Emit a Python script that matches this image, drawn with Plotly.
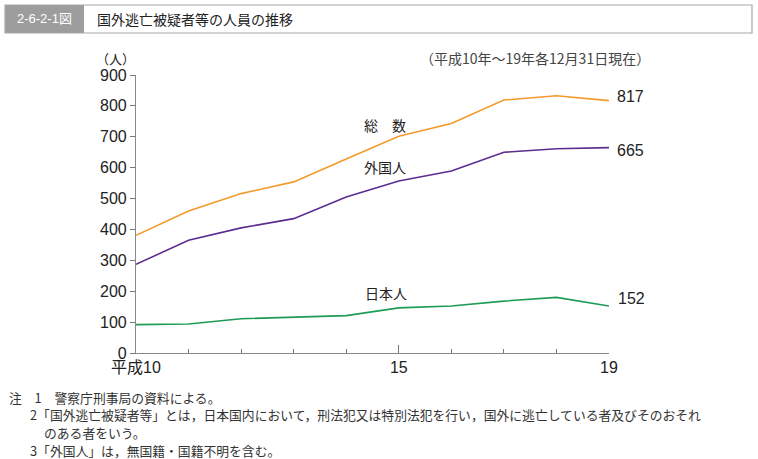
import plotly.graph_objects as go

years = [10, 11, 12, 13, 14, 15, 16, 17, 18, 19]
total = [381, 460, 516, 554, 628, 702, 743, 819, 833, 817]
foreign = [287, 365, 405, 435, 505, 557, 589, 650, 661, 665]
japanese = [92, 94, 111, 117, 121, 146, 152, 168, 180, 152]
series_names = ["総　数", "外国人", "日本人"]
colors = ["#F39A2B", "#5C2D91", "#1E9B57"]
x_tickvals = [10, 15, 19]
x_ticktext = ["平成10", "15", "19"]

W, H = 758, 459
L, R, T, B = 136, 609, 75, 353

def px(x):
    return (x - L) / (R - L)

def py(y):
    return (B - y) / (B - T)

NUM = "Liberation Sans, Arial, sans-serif"
JP = "Noto Sans CJK JP"

fig = go.Figure()
for vals, name, c in zip([total, foreign, japanese], series_names, colors):
    fig.add_trace(go.Scatter(x=years, y=vals, mode="lines", name=name,
                             line=dict(color=c, width=1.6), showlegend=False,
                             hoverinfo="x+y"))

fig.update_layout(
    width=W, height=H,
    margin=dict(l=L, r=W - R, t=T, b=H - B),
    paper_bgcolor="white", plot_bgcolor="white",
    xaxis=dict(range=[10, 19], tickvals=x_tickvals, ticktext=x_ticktext,
               ticks="inside", ticklen=8, tickcolor="#777", tickwidth=1,
               showline=True, linecolor="#888", linewidth=1.2,
               showgrid=False, zeroline=False,
               minor=dict(dtick=1, ticks="inside", ticklen=4, tickcolor="#777", showgrid=False),
               tickfont=dict(family=NUM + ", " + JP, size=16, color="#222")),
    yaxis=dict(range=[0, 900], dtick=100, ticks="outside", ticklen=5,
               tickcolor="#777", showline=True, linecolor="#888", linewidth=1.2,
               showgrid=False, zeroline=False,
               tickfont=dict(family=NUM, size=16, color="#222")),
)

shapes = [
    dict(type="rect", xref="paper", yref="paper", x0=px(5), x1=px(84), y0=py(33), y1=py(5),
         fillcolor="#9D9D9D", line=dict(width=0), layer="above"),
    dict(type="rect", xref="paper", yref="paper", x0=px(5), x1=px(752), y0=py(33), y1=py(5),
         fillcolor="rgba(0,0,0,0)", line=dict(color="#A8A8A8", width=1.2)),
]
fig.update_layout(shapes=shapes)

ann = []
def add(text, x, y, size, family, color="#222", xanchor="left", yanchor="middle"):
    ann.append(dict(text=text, x=px(x), y=py(y), xref="paper", yref="paper",
                    showarrow=False, xanchor=xanchor, yanchor=yanchor, borderpad=0,
                    font=dict(size=size, family=family, color=color)))

add("2-6-2-1図", 44, 19, 13, NUM + ", " + JP, color="white", xanchor="center")
add("国外逃亡被疑者等の人員の推移", 96, 19, 14, JP, color="#222")
add("（人）", 136, 59, 13, JP, xanchor="right")
add("（平成10年～19年各12月31日現在）", 651, 58, 14, JP, color="#444", xanchor="right")
add("総　数", 363, 125, 14, JP)
add("外国人", 363, 167, 14, JP)
add("日本人", 364, 293, 14, JP)
add("817", 616, 96, 16, NUM)
add("665", 616, 150, 16, NUM)
add("152", 617, 298, 16, NUM)

notes = [
    ("注　1　警察庁刑事局の資料による。", 8, 397),
    ("2「国外逃亡被疑者等」とは，日本国内において，刑法犯又は特別法犯を行い，国外に逃亡している者及びそのおそれ", 29, 414.5),
    ("のある者をいう。", 43, 432),
    ("3「外国人」は，無国籍・国籍不明を含む。", 29, 450),
]
for t, x, y in notes:
    add(t, x, y, 12.8, JP, color="#333")

fig.update_layout(annotations=ann)
fig.write_html("out.html", post_script="document.body.style.margin='0';",
               config={"displayModeBar": False})
